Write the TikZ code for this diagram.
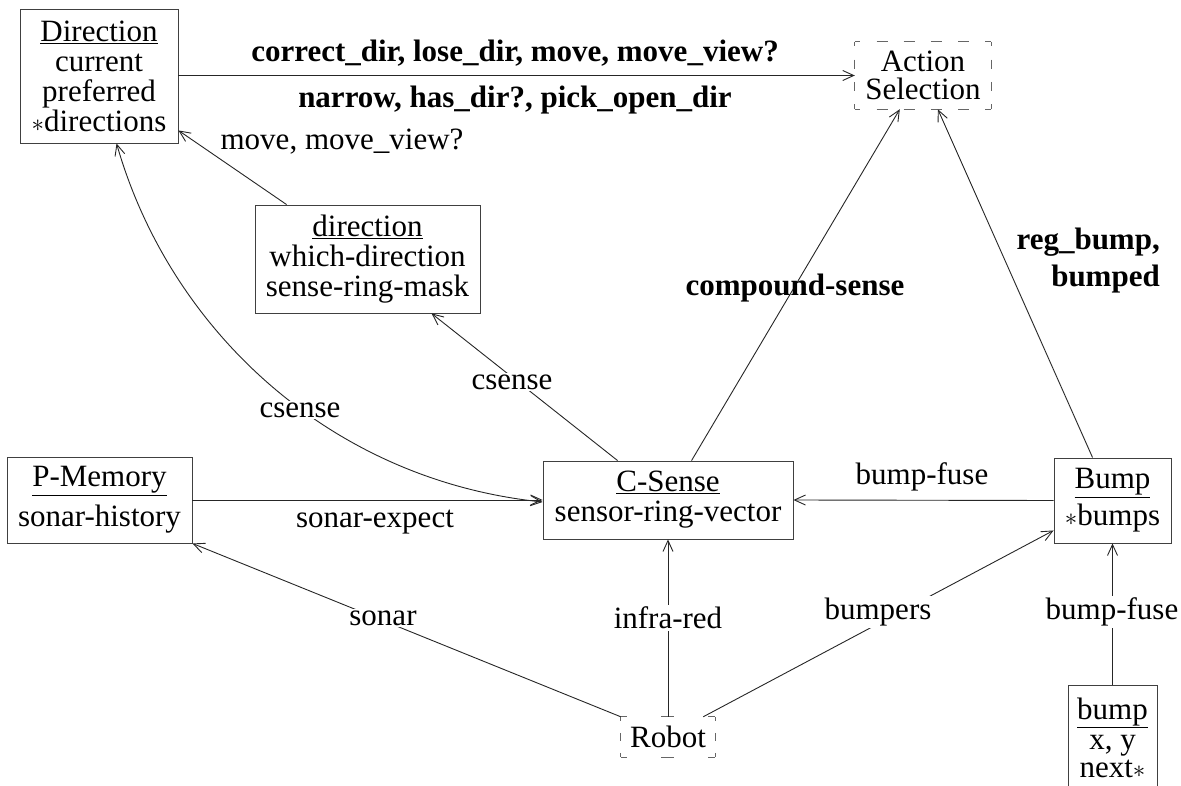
\documentclass[tikz,border=0pt]{standalone}
\usepackage{fontspec}
\setmainfont{Liberation Serif}
\usetikzlibrary{arrows.meta,calc}
\begin{document}
\begin{tikzpicture}[x=1pt,y=-1pt,
  every node/.style={font=\fontsize{31}{30}\selectfont, inner sep=0pt},
  box/.style={draw=black!75, line width=0.9pt, align=center},
  boxline/.style={draw=black!75, line width=0.9pt},
  dbox/.style={draw=black!60, line width=1pt},
  tip/.tip={Straight Barb[length=11pt,width=10pt,line width=0.9pt]},
  conn/.style={draw=black!85, line width=0.9pt, -tip},
  lbl/.style={fill=white, inner sep=2pt},
  blbl/.style={font=\fontsize{31}{30}\selectfont\bfseries}]
\useasboundingbox (0,0) rectangle (1181,786);
\clip (0,0) rectangle (1181,786);

% boxes
\node[box, minimum width=158pt, minimum height=134pt] (Dir) at (99,76)
  {\underline{Direction}\\current\\preferred\\$*$directions};
\node[align=center, minimum width=136pt, minimum height=67pt] (Act) at (923,75.5)
  {Action\\[-2pt]Selection};
\node[box, minimum width=225pt, minimum height=108pt] (dirb) at (367.5,259)
  {\underline{direction}\\which-direction\\sense-ring-mask};
\node[box, minimum width=250pt, minimum height=78pt] (CS) at (668,500)
  {\underline{C-Sense}\\sensor-ring-vector};
\node[box, minimum width=185pt, minimum height=86pt] (PM) at (99.5,500)
  {\underline{P-Memory}\\[9pt]sonar-history};
\node[box, minimum width=117pt, minimum height=85pt] (Bump) at (1112.5,500.5)
  {\underline{Bump}\\[6pt]$*$bumps};
\node[minimum width=94pt, minimum height=40pt] (Rob) at (668,737) {Robot};
\node[align=center] (bb) at (1112.5,738) {\underline{bump}\\x, y\\[-2pt]next$*$};
\coordinate (bbtop) at ($(bb)+(0,-53)$);
\draw[boxline] ($(bb)+(-44.5,70)$) -- ($(bb)+(-44.5,-53)$) -- ($(bb)+(44.5,-53)$) -- ($(bb)+(44.5,70)$);

% dashed boxes
\draw[dbox, dash pattern=on 11pt off 16.2pt, dash phase=5.5pt] (Act.north west) -- (Act.north east);
\draw[dbox, dash pattern=on 11pt off 16.2pt, dash phase=5.5pt] (Act.south west) -- (Act.south east);
\draw[dbox, dash pattern=on 9pt off 13.33pt, dash phase=4.5pt] (Act.north west) -- (Act.south west);
\draw[dbox, dash pattern=on 9pt off 13.33pt, dash phase=4.5pt] (Act.north east) -- (Act.south east);
\draw[dbox, dash pattern=on 13pt off 34pt, dash phase=6.5pt] (Rob.north west) -- (Rob.north east);
\draw[dbox, dash pattern=on 13pt off 34pt, dash phase=6.5pt] (Rob.south west) -- (Rob.south east);
\draw[dbox, dash pattern=on 8pt off 12pt, dash phase=4pt] (Rob.north west) -- (Rob.south west);
\draw[dbox, dash pattern=on 8pt off 12pt, dash phase=4pt] (Rob.north east) -- (Rob.south east);

% connectors
\draw[conn] (Dir.east |- Act.west) -- (Act.west);
\draw[conn] ($(dirb.north west)+(32,0)$) -- ($(Dir.south east)+(0,-13)$);
\draw[conn] ($(CS.north west)+(75,0)$) -- ($(dirb.south west)+(177,0)$);
\draw[conn] ($(CS.north west)+(149,0)$) -- ($(Act.south west)+(45,0)$);
\draw[conn] ($(Bump.north west)+(39,0)$) -- ($(Act.south west)+(83,0)$);
\draw[conn] (Bump.west) -- (CS.east);
\draw[conn] (PM.east) -- (CS.west);
\draw[conn] (Rob.north west) -- (PM.south east);
\draw[conn] (Rob.north) -- (CS.south);
\draw[conn] ($(Rob.north east)+(-12,0)$) -- ($(Bump.south west)+(0,-13)$);
\draw[conn] (bbtop) -- (Bump.south);
\draw[conn, tip-tip] ($(Dir.south west)+(97,0)$) .. controls (170,330) and (330,480) .. ($(CS.west)+(0,2)$);

% labels
\node[blbl] (l1) at (515,53) {correct\_dir, lose\_dir, move, move\_view?};
\node[blbl] (l2) at (515,100) {narrow, has\_dir?, pick\_open\_dir};
\node (l3) at (342,142) {move, move\_view?};
\node[lbl] (l4) at (512,382) {csense};
\node[lbl] (l5) at (300,410) {csense};
\node[blbl] (l6) at (795,288) {compound-sense};
\node[blbl, align=right, anchor=east] (l7) at (1160,261) {reg\_bump,\\[7pt]bumped};
\node (l8) at (922,477) {bump-fuse};
\node (l9) at (375,522) {sonar-expect};
\node[lbl] (l10) at (383,618) {sonar};
\node[lbl] (l11) at (668,618) {infra-red};
\node[lbl] (l12) at (878,612) {bumpers};
\node[lbl] (l13) at (1112,612) {bump-fuse};
\end{tikzpicture}
\end{document}
